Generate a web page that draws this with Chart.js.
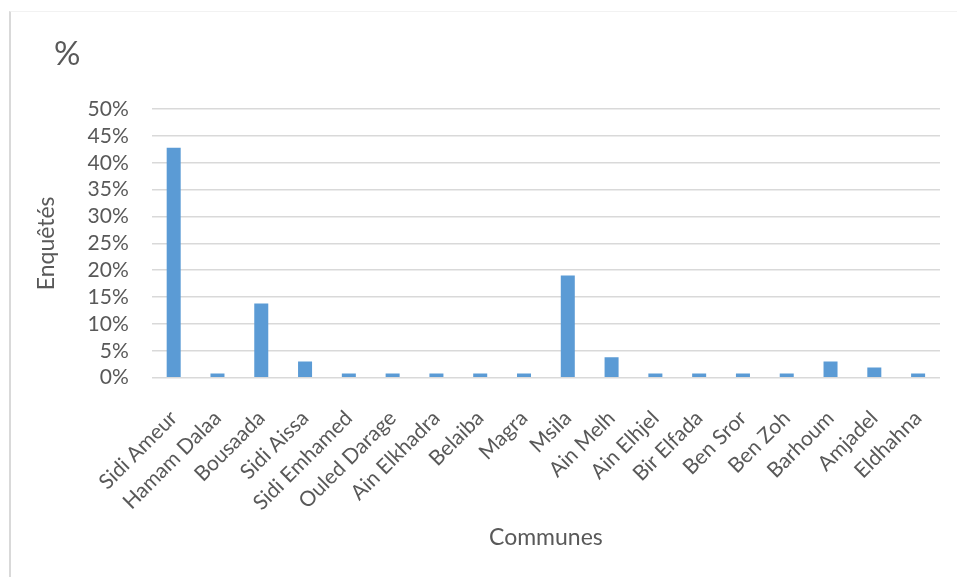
<!DOCTYPE html>
<html lang="fr">
<head>
    <meta charset="utf-8">
    <title>Enquêtés par commune</title>
    <script src="https://cdn.jsdelivr.net/npm/chart.js"></script>
    <style>
        body { margin: 0; background: #fff; }
        #wrap { position: relative; width: 957px; height: 577px; }
        #frame {
            position: absolute; left: 9px; top: 11px; right: 0; bottom: 0;
            border-left: 2px solid #d9d9d9; border-top: 1px solid #f2f2f2;
            pointer-events: none;
        }
    </style>
</head>
<body>
    <div id="wrap">
        <canvas id="barChart" width="957" height="577"></canvas>
        <div id="frame"></div>
    </div>
    <script>
        // communes and share of surveyed people (%)
        const communes = ['Sidi Ameur', 'Hamam Dalaa', 'Bousaada', 'Sidi Aissa', 'Sidi Emhamed',
            'Ouled Darage', 'Ain Elkhadra', 'Belaiba', 'Magra', 'Msila', 'Ain Melh', 'Ain Elhjel',
            'Bir Elfada', 'Ben Sror', 'Ben Zoh', 'Barhoum', 'Amjadel', 'Eldhahna'];
        const enquetes = [42.8, 0.8, 13.8, 3.0, 0.8, 0.8, 0.8, 0.8, 0.8, 19.0, 3.8, 0.8,
            0.8, 0.8, 0.8, 3.0, 1.9, 0.8];
        const yTicks = [0, 5, 10, 15, 20, 25, 30, 35, 40, 45, 50];

        const textColor = '#595959';
        const fontFamily = 'Lato, "Open Sans", sans-serif';

        // the "%" heading in the top-left corner
        const cornerTitle = {
            id: 'cornerTitle',
            afterDraw(chart) {
                const ctx = chart.ctx;
                ctx.save();
                ctx.fillStyle = textColor;
                ctx.font = '33px ' + fontFamily;
                ctx.textBaseline = 'middle';
                ctx.fillText('%', 54, 54);
                ctx.restore();
            }
        };

        new Chart(document.getElementById('barChart'), {
            type: 'bar',
            data: {
                labels: communes,
                datasets: [{
                    label: 'Enquêtés',
                    data: enquetes,
                    backgroundColor: '#5b9bd5',
                    borderWidth: 0,
                    barPercentage: 0.32,
                    categoryPercentage: 1
                }]
            },
            options: {
                responsive: false,
                animation: false,
                layout: { padding: { left: 33, right: 17, top: 109, bottom: 26 } },
                plugins: {
                    legend: { display: false },
                    tooltip: { enabled: false }
                },
                scales: {
                    x: {
                        grid: { display: false },
                        border: { display: false },
                        ticks: {
                            color: textColor,
                            font: { family: fontFamily, size: 21 },
                            autoSkip: false,
                            maxRotation: 45,
                            minRotation: 45,
                            padding: 20
                        },
                        title: {
                            display: true,
                            text: 'Communes',
                            color: textColor,
                            font: { family: fontFamily, size: 23 },
                            padding: { top: -12, bottom: 0 }
                        }
                    },
                    y: {
                        min: 0,
                        max: 50,
                        afterBuildTicks(axis) {
                            axis.ticks = yTicks.map(v => ({ value: v }));
                        },
                        grid: { color: '#d9d9d9', lineWidth: 1.5, drawTicks: false },
                        border: { display: false },
                        ticks: {
                            color: textColor,
                            font: { family: fontFamily, size: 21 },
                            autoSkip: false,
                            padding: 23,
                            callback: v => v + '%'
                        },
                        title: {
                            display: true,
                            text: 'Enquêtés',
                            color: textColor,
                            font: { family: fontFamily, size: 23 },
                            padding: { top: 0, bottom: 4 }
                        }
                    }
                }
            },
            plugins: [cornerTitle]
        });
    </script>
</body>
</html>
